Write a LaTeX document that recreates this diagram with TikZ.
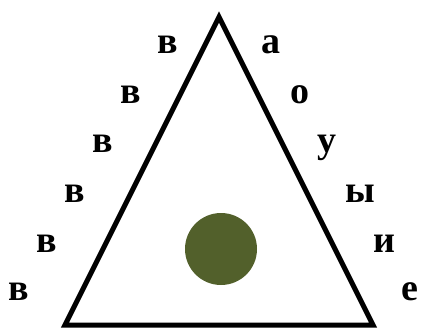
\documentclass[tikz,border=0pt]{standalone}
\usepackage{fontspec}
\setmainfont{Liberation Serif}
\usetikzlibrary{positioning}
\definecolor{ink}  {HTML}{000000}
\definecolor{moss} {HTML}{52602B}
\tikzset{
  % --- nodes
  lt/.style  = {anchor=base, inner sep=0pt, text=ink,
                font=\fontsize{38}{38}\selectfont\bfseries},
  dot/.style = {circle, fill=moss, minimum size=72pt, inner sep=0pt},
  % --- lines
  tri/.style = {draw=ink, line width=5pt, line join=miter},
}
\begin{document}
\begin{tikzpicture}[x=1pt,y=-1pt]
  \useasboundingbox (0,0) rectangle (421,329);
  \coordinate (top) at (219,17);
  \coordinate (bl)  at (65,325);
  \coordinate (br)  at (373,325);
  \draw[tri] (top) -- (bl) -- (br) -- cycle;
  \node[dot] (ball) at (221,249) {};
  % left side
  \node[lt] (v1) at (168,54)  {в};
  \node[lt] (v2) at (131,104) {в};
  \node[lt] (v3) at (103,153) {в};
  \node[lt] (v4) at (75,202)  {в};
  \node[lt] (v5) at (47,252)  {в};
  \node[lt] (v6) at (19,300)  {в};
  % right side
  \node[lt] (a)  at (271,54)  {а};
  \node[lt] (o)  at (300,104) {о};
  \node[lt] (u)  at (327,153) {у};
  \node[lt] (y)  at (360,202) {ы};
  \node[lt] (i)  at (384,252) {и};
  \node[lt] (e)  at (410,300) {е};
\end{tikzpicture}
\end{document}
